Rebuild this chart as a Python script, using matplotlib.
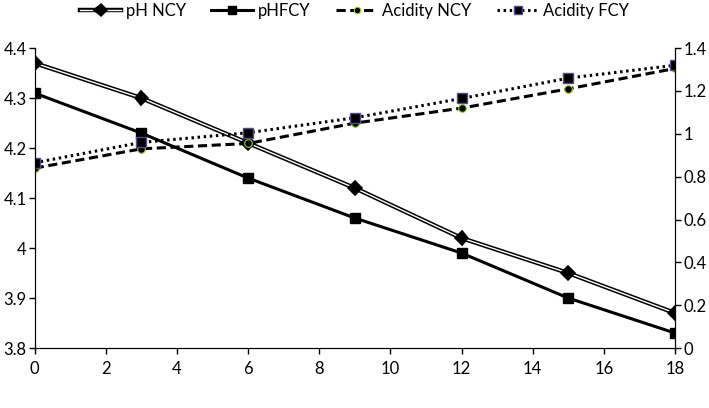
import numpy as np
import matplotlib.pyplot as plt
import matplotlib.patheffects as pe

plt.rcParams['font.family'] = ['Lato', 'DejaVu Sans']

days = [0, 3, 6, 9, 12, 15, 18]
ph_ncy = [4.37, 4.30, 4.21, 4.12, 4.02, 3.95, 3.87]
ph_fcy = [4.31, 4.23, 4.14, 4.06, 3.99, 3.90, 3.83]
acid_ncy = [0.84, 0.93, 0.955, 1.05, 1.12, 1.21, 1.305]
acid_fcy = [0.865, 0.96, 1.005, 1.075, 1.165, 1.26, 1.32]

fig = plt.figure(figsize=(7.09, 4.08), dpi=100)
ax = fig.add_axes([0.049, 0.147, 0.903, 0.735])
ax2 = ax.twinx()

# pH NCY : double line (black outline, white core)
l1, = ax.plot(days, ph_ncy, color='white', lw=1.0, marker='D', ms=5,
              mfc='black', mec='black', zorder=3,
              path_effects=[pe.Stroke(linewidth=3.2, foreground='black'), pe.Normal()])
l2, = ax.plot(days, ph_fcy, color='black', lw=2.2, marker='s', ms=7, zorder=3)
l3, = ax2.plot(days, acid_ncy, color='black', lw=2.2, ls=(0, (3, 1.5)), marker='o', ms=5.5,
               mfc='black', mec='#9acd32', mew=0.8)
l4, = ax2.plot(days, acid_fcy, color='black', lw=2.2, ls=(0, (0.8, 1.2)), marker='s', ms=6.5,
               mfc='black', mec='#5a4a8a', mew=1)

ax.set_xlim(0, 18)
ax.set_ylim(3.8, 4.4)
ax2.set_ylim(0, 1.4)
ax.set_xticks(np.arange(0, 19, 2))
ax.set_yticks(np.arange(3.8, 4.41, 0.1))
ax.set_yticklabels(['3.8', '3.9', '4', '4.1', '4.2', '4.3', '4.4'])
ax2.set_yticks(np.arange(0, 1.41, 0.2))
ax2.set_yticklabels(['0', '0.2', '0.4', '0.6', '0.8', '1', '1.2', '1.4'])

for a in (ax, ax2):
    a.spines['top'].set_visible(False)
    a.tick_params(labelsize=12, length=4, width=1, direction='out', pad=2)
ax.tick_params(axis='x', pad=5)

fig.legend([l1, l2, l3, l4], ['pH NCY', 'pHFCY', 'Acidity NCY', 'Acidity FCY'],
           loc='upper center', bbox_to_anchor=(0.5, 1.03), ncol=4, frameon=False,
           fontsize=12, handlelength=2.5, columnspacing=1.5, handletextpad=0.3,
           markerscale=0.85)

fig.savefig('out.png', dpi=100)
